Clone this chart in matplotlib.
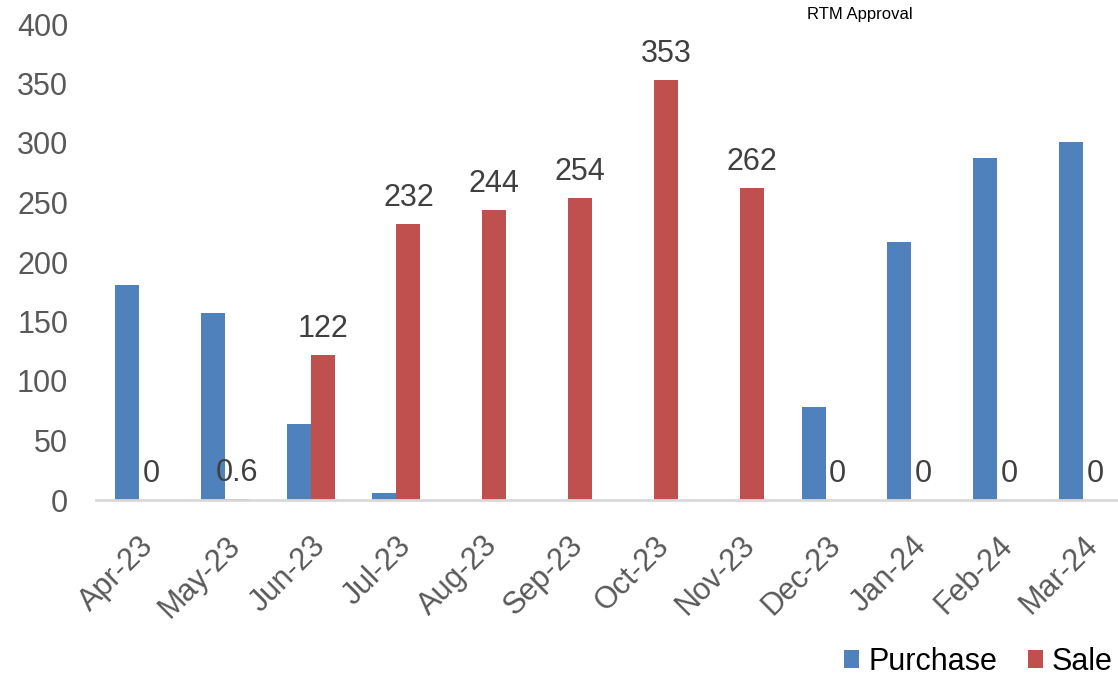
import numpy as np
import matplotlib
matplotlib.use("Agg")
import matplotlib.pyplot as plt

months = ["Apr-23", "May-23", "Jun-23", "Jul-23", "Aug-23", "Sep-23",
          "Oct-23", "Nov-23", "Dec-23", "Jan-24", "Feb-24", "Mar-24"]
purchase = [181, 157, 64, 6, 0, 0, 0, 0, 78, 217, 287, 301]
sale = [0, 0.6, 122, 232, 244, 254, 353, 262, 0, 0, 0, 0]

plt.rcParams['font.family'] = ['Liberation Sans', 'DejaVu Sans']

fig = plt.figure(figsize=(11.18, 6.85), dpi=100)
ax = fig.add_axes([96/1118, 1-500/685, 1030/1118, 476/685])

x = np.arange(len(months))
w = 0.28
b1 = ax.bar(x - w/2, purchase, w, color='#4F81BD', label='Purchase')
b2 = ax.bar(x + w/2, sale, w, color='#C0504D', label='Sale')

# labels only on the sale series
ax.bar_label(b2, labels=['%g' % v for v in sale], padding=8,
             fontsize=22, color='#404040')

ax.set_xlim(-0.5, len(months) - 0.5)
ax.set_ylim(0, 400)
ax.set_yticks(range(0, 401, 50))
ax.set_xticks(x)
ax.set_xticklabels(months, rotation=45, ha='right', rotation_mode='anchor')

for s in ['top', 'right', 'left']:
    ax.spines[s].set_visible(False)
ax.spines['bottom'].set_color('#D9D9D9')
ax.spines['bottom'].set_linewidth(2)
ax.tick_params(axis='y', length=0, pad=20, labelsize=22, labelcolor='#595959')
ax.tick_params(axis='x', length=0, pad=22, labelsize=22, labelcolor='#595959')

fig.text(860/1118, 1-14/685, 'RTM Approval', ha='center', va='center',
         fontsize=12, color='black')

fig.legend(handles=[b1, b2], loc='lower right', bbox_to_anchor=(1.02, -0.028),
           ncol=2, frameon=False, fontsize=22, handlelength=0.5,
           handleheight=0.5, handletextpad=0.3, columnspacing=1.0,
           labelcolor='black')

fig.savefig('out.png', dpi=100)
